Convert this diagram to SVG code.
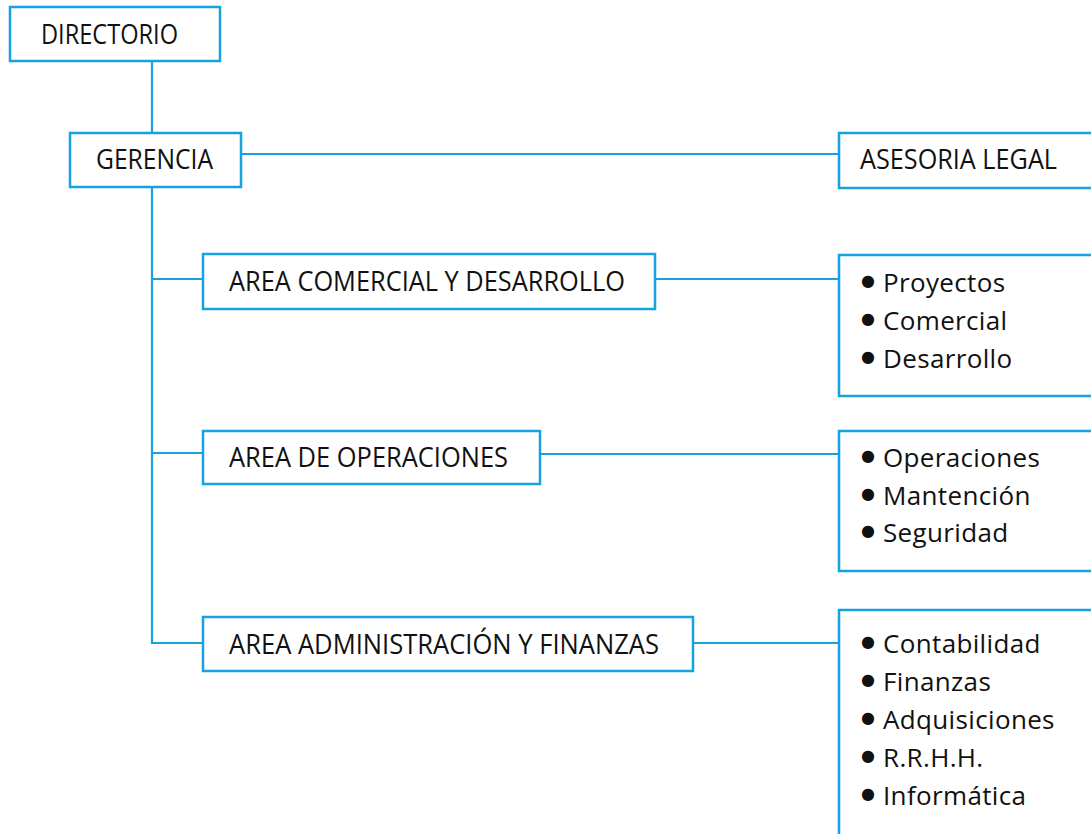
<svg xmlns="http://www.w3.org/2000/svg" width="1091" height="834" viewBox="0 0 1091 834">
<style>
  .box{fill:#ffffff;stroke:#16a1df;stroke-width:2.5}
  .ln{fill:none;stroke:#16a1df;stroke-width:2.2}
  .t{font-family:"Open Sans","Noto Sans","DejaVu Sans",sans-serif;font-size:26px;letter-spacing:0.35px;fill:#111111}
  .h{font-family:"Open Sans","Noto Sans","DejaVu Sans",sans-serif;font-size:27.5px;fill:#111111}
  .b{font-family:"DejaVu Sans",sans-serif;font-size:16px;letter-spacing:0}
</style>
<rect width="1091" height="834" fill="#ffffff"/>
<g id="connectors">
  <path class="ln" d="M152 61 V133"/>
  <path class="ln" d="M241 154 H839"/>
  <path class="ln" d="M152 187 V643 H203"/>
  <path class="ln" d="M152 279 H203"/>
  <path class="ln" d="M152 453 H203"/>
  <path class="ln" d="M655 279 H839"/>
  <path class="ln" d="M540 454 H839"/>
  <path class="ln" d="M693 643 H839"/>
</g>
<g id="directorio">
  <rect class="box" x="10" y="7" width="210" height="54"/>
  <text class="h" x="41" y="44" textLength="137" lengthAdjust="spacingAndGlyphs">DIRECTORIO</text>
</g>
<g id="gerencia">
  <rect class="box" x="70" y="133" width="171" height="54"/>
  <text class="h" x="96" y="169" textLength="117" lengthAdjust="spacingAndGlyphs">GERENCIA</text>
</g>
<g id="asesoria-legal">
  <rect class="box" x="839" y="133" width="270" height="55"/>
  <text class="h" x="860" y="169" textLength="197" lengthAdjust="spacingAndGlyphs">ASESORIA LEGAL</text>
</g>
<g id="area-comercial">
  <rect class="box" x="203" y="254" width="452" height="55"/>
  <text class="h" x="229" y="291" textLength="396" lengthAdjust="spacingAndGlyphs">AREA COMERCIAL Y DESARROLLO</text>
</g>
<g id="area-operaciones">
  <rect class="box" x="203" y="431" width="337" height="53"/>
  <text class="h" x="229" y="467" textLength="279" lengthAdjust="spacingAndGlyphs">AREA DE OPERACIONES</text>
</g>
<g id="area-administracion">
  <rect class="box" x="203" y="617" width="490" height="54"/>
  <text class="h" x="229" y="654" textLength="430" lengthAdjust="spacingAndGlyphs">AREA ADMINISTRACIÓN Y FINANZAS</text>
</g>
<g id="lista-comercial">
  <rect class="box" x="839" y="255" width="270" height="141"/>
  <text class="t"><tspan class="b" x="861" y="286">●</tspan><tspan x="883" y="292">Proyectos</tspan></text>
  <text class="t"><tspan class="b" x="861" y="324">●</tspan><tspan x="883" y="330">Comercial</tspan></text>
  <text class="t"><tspan class="b" x="861" y="362">●</tspan><tspan x="883" y="368">Desarrollo</tspan></text>
</g>
<g id="lista-operaciones">
  <rect class="box" x="839" y="431" width="270" height="140"/>
  <text class="t"><tspan class="b" x="861" y="461">●</tspan><tspan x="883" y="467">Operaciones</tspan></text>
  <text class="t"><tspan class="b" x="861" y="499">●</tspan><tspan x="883" y="505">Mantención</tspan></text>
  <text class="t"><tspan class="b" x="861" y="536">●</tspan><tspan x="883" y="542">Seguridad</tspan></text>
</g>
<g id="lista-administracion">
  <rect class="box" x="839" y="610" width="270" height="240"/>
  <text class="t"><tspan class="b" x="861" y="647">●</tspan><tspan x="883" y="653">Contabilidad</tspan></text>
  <text class="t"><tspan class="b" x="861" y="685">●</tspan><tspan x="883" y="691">Finanzas</tspan></text>
  <text class="t"><tspan class="b" x="861" y="723">●</tspan><tspan x="883" y="729">Adquisiciones</tspan></text>
  <text class="t"><tspan class="b" x="861" y="761">●</tspan><tspan x="883" y="767">R.R.H.H.</tspan></text>
  <text class="t"><tspan class="b" x="861" y="799">●</tspan><tspan x="883" y="805">Informática</tspan></text>
</g>
</svg>
